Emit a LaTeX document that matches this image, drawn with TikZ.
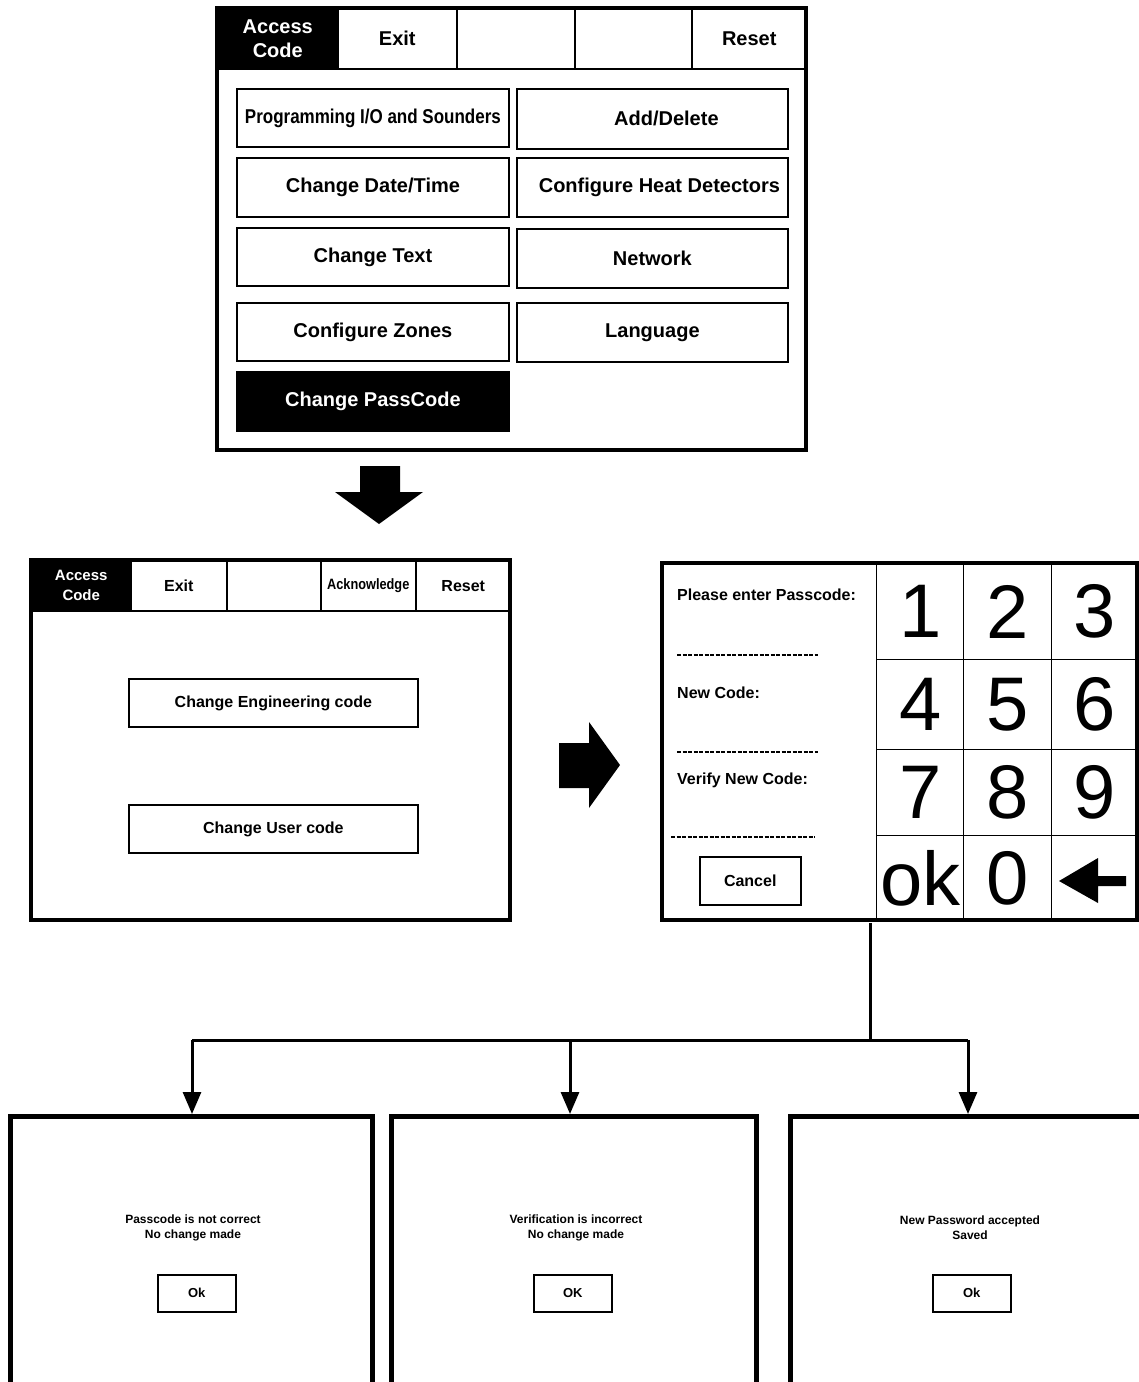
\documentclass[tikz,border=0pt]{standalone}
\usepackage{fontspec}
\setmainfont{Liberation Sans}
\usepackage{graphicx}
\usetikzlibrary{arrows.meta}
\newcommand\fsz[2]{\fontsize{#1}{#2}\selectfont}
\newcommand\hsq[2]{\scalebox{#1}[1]{#2}}
\begin{document}
\begin{tikzpicture}[x=1pt,y=-1pt,
  scr/.style={draw, line width=4pt, anchor=north west, inner sep=0pt, outer sep=0pt},
  cell/.style={draw, line width=1.5pt, anchor=north west, inner sep=0pt, align=center, font=\bfseries\fsz{20}{24}},
  cellm/.style={cell, font=\bfseries\fsz{16}{20}},
  blk/.style={fill=black, text=white},
  btn/.style={draw, line width=1.8pt, anchor=north west, inner sep=0pt, align=center, font=\bfseries\fsz{20}{24}},
  btnm/.style={btn, font=\bfseries\fsz{16}{20}},
  key/.style={draw, line width=1.3pt, anchor=north west, inner sep=0pt, minimum height=86, font=\fsz{76}{76}},
  lbl/.style={anchor=west, inner sep=0pt, font=\bfseries\fsz{16}{18}},
  res/.style={draw, line width=4.5pt, anchor=north west, inner sep=0pt, minimum height=300},
  msg/.style={align=center, inner sep=0pt, font=\bfseries\fsz{12}{15}},
  okb/.style={draw, line width=1.5pt, anchor=north west, inner sep=0pt, minimum width=78, minimum height=37, font=\bfseries\fsz{13}{14}},
  wire/.style={line width=3pt},
  dots/.style={line width=2pt, dash pattern=on 4pt off 1.5pt},
  blockarrow/.style={fill=black, draw=none}
]
\clip (0,0) rectangle (1139,1382);
\fill[white] (0,0) rectangle (1139,1382);

% ---------- top screen ----------
\node[scr, minimum width=589, minimum height=442] (s1) at (217,8) {};
\node[cell, blk, minimum width=120, minimum height=60] (s1ac) at (217,8) {Access\\Code};
\node[cell, minimum width=119, minimum height=60] (s1ex) at (337,8) {Exit};
\node[cell, minimum width=118, minimum height=60] (s1b1) at (456,8) {};
\node[cell, minimum width=117, minimum height=60] (s1b2) at (574,8) {};
\node[cell, minimum width=115, minimum height=60] (s1rs) at (691,8) {Reset};

\node[btn, minimum width=272, minimum height=58] (prog) at (236,88) {\hsq{0.85}{Programming I/O and Sounders}};
\node[btn, minimum width=271, minimum height=60] (add) at (516,88) {\hspace*{28pt}Add/Delete};
\node[btn, minimum width=272, minimum height=59] (date) at (236,157) {Change Date/Time};
\node[btn, minimum width=271, minimum height=59] (heat) at (516,157) {\hspace*{14pt}Configure Heat Detectors};
\node[btn, minimum width=272, minimum height=58] (txt) at (236,227) {Change Text};
\node[btn, minimum width=271, minimum height=59] (net) at (516,228) {Network};
\node[btn, minimum width=272, minimum height=58] (zones) at (236,302) {Configure Zones};
\node[btn, minimum width=271, minimum height=59] (lang) at (516,302) {Language};
\node[btn, blk, minimum width=272, minimum height=59] (pass) at (236,371) {Change PassCode};

% down block arrow
\fill[blockarrow] (360,466) -- (400,466) -- (400,492) -- (423,492) -- (379,524) -- (335,492) -- (360,492) -- cycle;

% ---------- middle-left screen ----------
\node[scr, minimum width=479, minimum height=360] (s2) at (31,560) {};
\node[cellm, blk, minimum width=99, minimum height=50, font=\bfseries\fsz{15}{20}] (s2ac) at (31,560) {Access\\Code};
\node[cellm, minimum width=96, minimum height=50] (s2ex) at (130,560) {Exit};
\node[cellm, minimum width=94, minimum height=50] (s2b1) at (226,560) {};
\node[cellm, minimum width=95, minimum height=50] (s2ack) at (320,560) {\hsq{0.85}{\fsz{15}{18}Acknowledge}};
\node[cellm, minimum width=95, minimum height=50] (s2rs) at (415,560) {Reset};
\node[btnm, minimum width=289, minimum height=48] (eng) at (128,678) {Change Engineering code};
\node[btnm, minimum width=289, minimum height=48] (user) at (128,804) {Change User code};

% right block arrow
\fill[blockarrow] (559,743) -- (589,743) -- (589,722) -- (620,765) -- (589,808) -- (589,788) -- (559,788) -- cycle;

% ---------- keypad screen ----------
\node[scr, minimum width=475, minimum height=357] (kp) at (662,563) {};
\node[lbl] (l1) at (677,595) {Please enter Passcode:};
\draw[dots] (677,655) -- (818,655);
\node[lbl] (l2) at (677,693) {New Code:};
\draw[dots] (677,752) -- (818,752);
\node[lbl] (l3) at (677,780) {Verify New Code:};
\draw[dots] (671,837) -- (815,837);
\node[btnm, line width=1.5pt, minimum width=101, minimum height=48] (cancel) at (699,856) {Cancel};

\node[key, minimum width=87, minimum height=96] (k1) at (876,563) {1};
\node[key, minimum width=88, minimum height=96] (k2) at (963,563) {2};
\node[key, minimum width=86, minimum height=96] (k3) at (1051,563) {3};
\node[key, minimum width=87, minimum height=90] (k4) at (876,659) {4};
\node[key, minimum width=88, minimum height=90] (k5) at (963,659) {5};
\node[key, minimum width=86, minimum height=90] (k6) at (1051,659) {6};
\node[key, minimum width=87, minimum height=86] (k7) at (876,749) {7};
\node[key, minimum width=88, minimum height=86] (k8) at (963,749) {8};
\node[key, minimum width=86, minimum height=86] (k9) at (1051,749) {9};
\node[key, minimum width=87, minimum height=85] (kok) at (876,835) {ok};
\node[key, minimum width=88, minimum height=85] (k0) at (963,835) {0};
\node[key, minimum width=86, minimum height=85] (kbs) at (1051,835) {};
\fill (1059,881) -- (1098,858) -- (1098,876) -- (1126,876) -- (1126,886) -- (1098,886) -- (1098,903) -- cycle;

% ---------- result screens ----------
\node[res, minimum width=362] (r1) at (8,1114) {};
\node[res, minimum width=365] (r2) at (389,1114) {};
\node[res, minimum width=400] (r3) at (788,1114) {};

\node[msg] (m1) at (193,1228) {Passcode is not correct\\No change made};
\node[okb] (o1) at (157,1274) {Ok};
\node[msg] (m2) at (576,1228) {Verification is incorrect\\No change made};
\node[okb] (o2) at (533,1274) {OK};
\node[msg] (m3) at (970,1228) {New Password accepted\\Saved};
\node[okb] (o3) at (932,1274) {Ok};

% ---------- connectors ----------
\coordinate (split) at (870,1040);
\coordinate (bl) at (192,1040);
\coordinate (bm) at (570,1040);
\coordinate (br) at (968,1040);
\draw[wire] ([yshift=-3pt]kp.south -| split) -- (split);
\draw[wire] (bl) -- (br);
\draw[wire, -{Triangle[length=22pt,width=18pt]}] (bl) -- (bl |- r1.north);
\draw[wire, -{Triangle[length=22pt,width=18pt]}] (bm) -- (bm |- r2.north);
\draw[wire, -{Triangle[length=22pt,width=18pt]}] (br) -- (br |- r3.north);
\end{tikzpicture}
\end{document}
